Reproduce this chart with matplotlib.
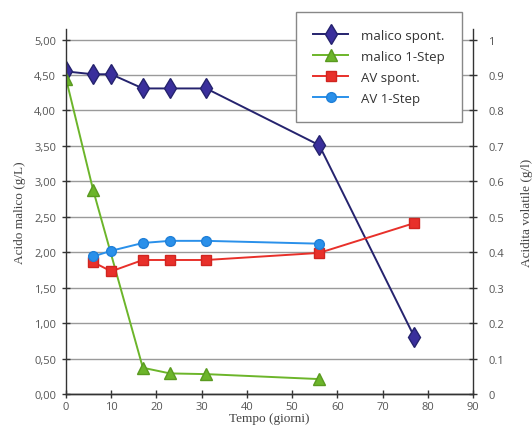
import matplotlib.pyplot as plt
from matplotlib.ticker import FuncFormatter

# data
giorni_spont = [0, 6, 10, 17, 23, 31, 56, 77]
malico_spont = [4.55, 4.51, 4.51, 4.31, 4.31, 4.31, 3.51, 0.81]

giorni_1step = [0, 6, 17, 23, 31, 56]
malico_1step = [4.45, 2.88, 0.37, 0.29, 0.28, 0.21]

giorni_av_spont = [6, 10, 17, 23, 31, 56, 77]
av_spont = [0.372, 0.346, 0.378, 0.378, 0.378, 0.398, 0.482]

giorni_av_1step = [6, 10, 17, 23, 31, 56]
av_1step = [0.388, 0.404, 0.426, 0.432, 0.432, 0.424]

fig = plt.figure(figsize=(5.32, 4.27), dpi=100)
ax1 = fig.add_axes([0.124, 0.075, 0.765, 0.855])
ax2 = ax1.twinx()

tick_font = "Open Sans"
serif = "Liberation Serif"

ax1.set_axisbelow(True)
ax1.yaxis.grid(True, color="#9a9a9a", lw=1)

h1, = ax1.plot(giorni_spont, malico_spont, color="#25236e", lw=1.4,
               marker="d", ms=10, mfc="#3a2f9c", mec="#25236e", label="malico spont.")
h2, = ax1.plot(giorni_1step, malico_1step, color="#6cb52a", lw=1.4,
               marker="^", ms=9, mfc="#6cb52a", mec="#5a9a20", label="malico 1-Step")
h3, = ax2.plot(giorni_av_spont, av_spont, color="#e8302a", lw=1.4,
               marker="s", ms=7, mfc="#e8302a", mec="#d02520", label="AV spont.")
h4, = ax2.plot(giorni_av_1step, av_1step, color="#2a90ea", lw=1.4,
               marker="o", ms=7, mfc="#2a90ea", mec="#2080d8", label="AV 1-Step")

ax1.set_xlim(0, 90)
ax1.set_ylim(0, 5.15)
ax2.set_ylim(0, 1.03)
ax1.set_xticks(range(0, 91, 10))
ax1.set_yticks([i * 0.5 for i in range(11)])
ax2.set_yticks([i / 10 for i in range(11)])
ax1.yaxis.set_major_formatter(FuncFormatter(lambda v, p: f"{v:.2f}".replace(".", ",")))
ax2.yaxis.set_major_formatter(FuncFormatter(lambda v, p: "0" if v == 0 else ("1" if v == 1 else f"{v:.1f}")))

for ax in (ax1, ax2):
    ax.spines["top"].set_visible(False)
    for s in ax.spines.values():
        s.set_color("#333333")
        s.set_linewidth(1)
    ax.tick_params(direction="inout", length=6, width=1, colors="#333333",
                   labelcolor="#555555", labelsize=8)
    for lab in ax.get_xticklabels() + ax.get_yticklabels():
        lab.set_fontfamily(tick_font)
ax2.spines["left"].set_visible(False)
ax1.spines["right"].set_visible(False)
ax1.tick_params(axis="x", pad=2)
ax1.tick_params(axis="y", pad=4)
ax2.tick_params(axis="y", pad=8)

ax1.set_xlabel("Tempo (giorni)", family=serif, fontsize=9.5, color="#444444", labelpad=0)
ax1.set_ylabel("Acido malico (g/L)", family=serif, fontsize=9.5, color="#444444", labelpad=6)
ax2.set_ylabel("Acidita volatile (g/l)", family=serif, fontsize=9.5, color="#444444", labelpad=12)

leg = fig.legend(handles=[h1, h2, h3, h4], loc="upper right", bbox_to_anchor=(0.868, 0.97),
                 fancybox=False, edgecolor="#888888", framealpha=1,
                 prop={"family": tick_font, "size": 9.5}, handlelength=2.6,
                 borderpad=1.3, labelspacing=0.6, borderaxespad=0, handletextpad=1.0)
leg.get_frame().set_linewidth(1)
for t in leg.get_texts():
    t.set_color("#333333")

fig.savefig("out.png", dpi=100)
